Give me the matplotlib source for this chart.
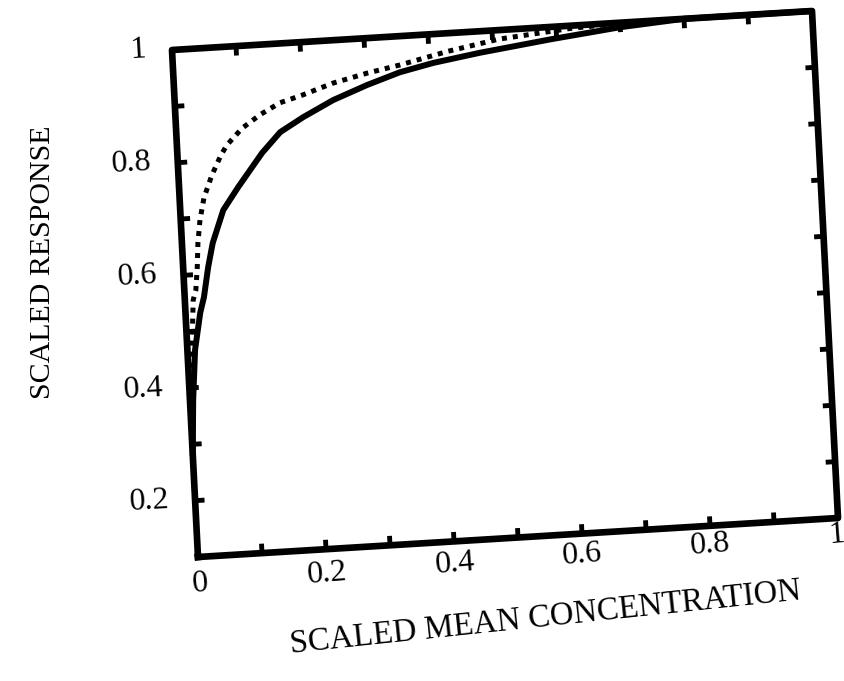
import numpy as np
import matplotlib
matplotlib.use("Agg")
import matplotlib.pyplot as plt
from matplotlib.transforms import Affine2D, ScaledTranslation

plt.rcParams['font.family'] = ['Liberation Serif', 'DejaVu Serif']

# data
x_solid = [0.0, 0.005, 0.012, 0.023, 0.030, 0.039, 0.048, 0.067, 0.092, 0.132, 0.162,
           0.199, 0.247, 0.301, 0.353, 0.406, 0.48, 0.59, 0.70, 0.80, 1.0]
y_solid = [0.28, 0.378, 0.467, 0.532, 0.559, 0.612, 0.654, 0.711, 0.750, 0.808, 0.843,
           0.867, 0.894, 0.917, 0.936, 0.949, 0.962, 0.978, 0.992, 1.0, 1.0]

x_dot = [0.0, 0.006, 0.013, 0.018, 0.022, 0.025, 0.030, 0.038, 0.052, 0.068, 0.078,
         0.103, 0.132, 0.164, 0.199, 0.248, 0.302, 0.354, 0.43, 0.51, 0.62, 0.72, 1.0]
y_dot = [0.28, 0.45, 0.555, 0.573, 0.613, 0.656, 0.696, 0.735, 0.774, 0.809, 0.826,
         0.854, 0.876, 0.895, 0.906, 0.924, 0.938, 0.949, 0.968, 0.984, 0.995, 1.0, 1.0]

xticks = [0, 0.2, 0.4, 0.6, 0.8, 1]
xticklabels = ['0', '0.2', '0.4', '0.6', '0.8', '1']
yticks = [0.2, 0.4, 0.6, 0.8, 1]
yticklabels = ['0.2', '0.4', '0.6', '0.8', '1']
minor_x = [0.1, 0.2, 0.3, 0.4, 0.5, 0.6, 0.7, 0.8, 0.9]
minor_y = [0.2, 0.3, 0.4, 0.5, 0.6, 0.7, 0.8, 0.9]

xlim = (0.0, 1.0)
ylim = (0.1, 1.0)

fig = plt.figure(figsize=(8.45, 6.81), dpi=100)
ax = fig.add_axes([0, 0, 1, 1])
ax.set_xlim(*xlim)
ax.set_ylim(*ylim)
ax.set_axis_off()

# the scan is slightly rotated/skewed: map axes fraction -> display pixels
bl = np.array([198.0, 124.0])
br = np.array([838.0, 163.0])
tl = np.array([172.0, 631.0])
e1 = br - bl
e2 = tl - bl
skew = Affine2D(np.array([[e1[0], e2[0], bl[0]],
                          [e1[1], e2[1], bl[1]],
                          [0, 0, 1]]))
tr = ax.transLimits + skew

# curves
ax.plot(x_solid, y_solid, color='black', lw=4.3, solid_capstyle='round',
        solid_joinstyle='round', transform=tr, clip_on=False, zorder=2)
ax.plot(x_dot, y_dot, color='black', lw=3.6, linestyle=(0, (1, 1.2)),
        dash_capstyle='butt', transform=tr, clip_on=False, zorder=2)

# frame
ax.plot([xlim[0], xlim[1], xlim[1], xlim[0], xlim[0]],
        [ylim[0], ylim[0], ylim[1], ylim[1], ylim[0]],
        color='black', lw=4.8, solid_joinstyle='round', transform=tr,
        clip_on=False, zorder=3)

# inward tick marks on all four sides
tx = 7 / e1[0] * (xlim[1] - xlim[0])
ty = 7 / np.hypot(*e2) * (ylim[1] - ylim[0])
for t in minor_x:
    ax.plot([t, t], [ylim[0], ylim[0] + ty], color='black', lw=3.5, transform=tr, clip_on=False)
    ax.plot([t, t], [ylim[1], ylim[1] - ty], color='black', lw=3.5, transform=tr, clip_on=False)
for t in minor_y:
    ax.plot([xlim[0], xlim[0] + tx], [t, t], color='black', lw=3.5, transform=tr, clip_on=False)
    ax.plot([xlim[1], xlim[1] - tx], [t, t], color='black', lw=3.5, transform=tr, clip_on=False)

# tick labels
for t, lab in zip(xticks, xticklabels):
    dx = 0.02 - 0.03 * t
    off = ScaledTranslation(dx, -(0.27 - 0.10 * t), fig.dpi_scale_trans)
    ax.text(t, ylim[0], lab, transform=tr + off, ha='center', va='center',
            fontsize=23, rotation=4.5, rotation_mode='anchor')
for t, lab in zip(yticks, yticklabels):
    off = ScaledTranslation(-0.26, 0.0, fig.dpi_scale_trans)
    ax.text(xlim[0], t, lab, transform=tr + off, ha='right', va='center',
            fontsize=23, rotation=3, rotation_mode='anchor')

# axis titles
fig.text(546 / 845, 1 - 618 / 681, 'SCALED MEAN CONCENTRATION', ha='center', va='center',
         fontsize=23.5, rotation=6)
fig.text(43 / 845, 1 - 262 / 681, 'SCALED RESPONSE', ha='center', va='center',
         fontsize=21.5, rotation=90)

fig.savefig('out.png', dpi=100)
